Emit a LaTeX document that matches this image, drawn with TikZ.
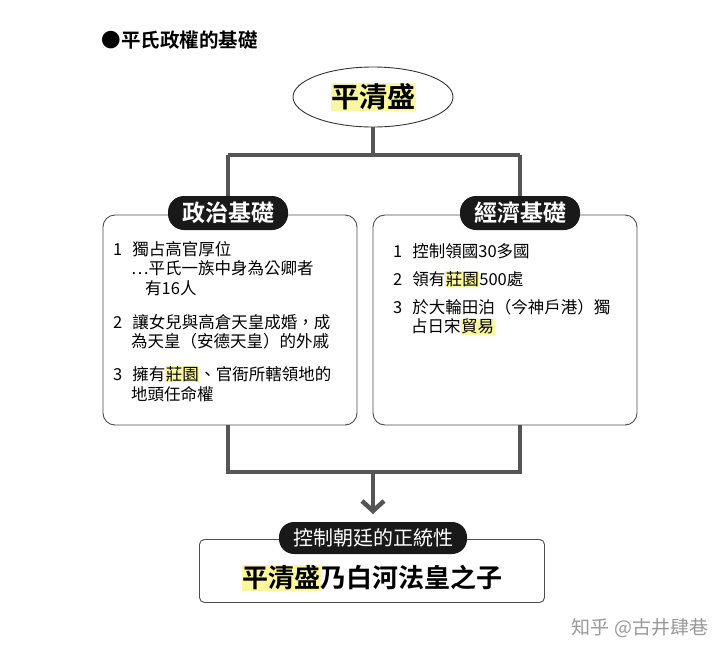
\documentclass[tikz,border=0pt]{standalone}
\usepackage{fontspec}
\setmainfont{Noto Sans CJK TC}
\newfontfamily\cjkbold{Noto Sans CJK TC Bold}
\usetikzlibrary{shapes.geometric, positioning, arrows.meta}
\definecolor{linegray}{HTML}{555555}
\definecolor{hlyellow}{HTML}{FAF7A0}
\newcommand{\hlt}[1]{{\setlength{\fboxsep}{0.5pt}\colorbox{hlyellow}{#1}}}

\begin{document}
\begin{tikzpicture}[x=1pt,y=-1pt,font=\fontsize{15}{20}\selectfont]
	\tikzset{conn/.style={draw=linegray, line width=4.5pt}}
	\tikzset{frame box/.style={draw=black!70, line width=0.9pt, rounded corners=12pt}}
	\tikzset{pill/.style={fill=black!90, text=white, rounded corners=16pt,
			minimum height=34pt, inner xsep=14pt, font=\cjkbold\fontsize{23}{24}\selectfont}}
	\tikzset{item/.style={anchor=north west, inner sep=0pt, align=left,
			font=\fontsize{16.5}{20.5}\selectfont}}

	\useasboundingbox (0,0) rectangle (720,659);

	\node[anchor=west, font=\cjkbold\fontsize{19.5}{20}\selectfont] (title) at (98,40) {●平氏政權的基礎};

	% top
	\node[ellipse, draw=black!80, line width=0.9pt, minimum width=160pt, minimum height=60pt,
		font=\cjkbold\fontsize{28}{30}\selectfont] (kiyo) at (373,97) {\hlt{平清盛}};
	\coordinate (split) at (373,155);
	\coordinate (splitL) at (228,155);
	\coordinate (splitR) at (520,155);

	% boxes
	\node[frame box, minimum width=254pt, minimum height=210pt] (polbox) at (230,320) {};
	\node[frame box, minimum width=264pt, minimum height=210pt] (ecobox) at (505,320) {};
	\draw[conn] (kiyo.south) -- (split) (splitL) -- (splitR)
		(splitL) -- (polbox.north -| splitL) (splitR) -- (ecobox.north -| splitR);
	\node[pill] (pol) at (228,213) {政治基礎};
	\node[pill] (eco) at (520,213) {經濟基礎};

	% political items
	\node[item] (p1) at (113,241) {1\hspace{10pt}獨占高官厚位\\[-1pt]\hspace{18pt}…平氏一族中身為公卿者\\[-1pt]\hspace{32pt}有16人};
	\node[item] (p2) at (113,314) {2\hspace{10pt}讓女兒與高倉天皇成婚，成\\[-1pt]\hspace{18pt}為天皇（安德天皇）的外戚};
	\node[item] (p3) at (113,366) {3\hspace{10pt}擁有\hlt{莊園}、官衙所轄領地的\\[-1pt]\hspace{18pt}地頭任命權};

	% economic items
	\node[item] (e1) at (393,243) {1\hspace{10pt}控制領國30多國};
	\node[item] (e2) at (393,271) {2\hspace{10pt}領有\hlt{莊園}500處};
	\node[item] (e3) at (393,299) {3\hspace{10pt}於大輪田泊（今神戶港）獨\\[-1pt]\hspace{18pt}占日宋\hlt{貿易}};

	% merge
	\coordinate (mergeL) at (228,472);
	\coordinate (mergeR) at (520,472);
	\coordinate (merge) at (373,472);
	\node[frame box, rounded corners=5pt, minimum width=345pt, minimum height=63pt] (resbox) at (372,571) {};
	\draw[conn] (polbox.south -| mergeL) -- (mergeL) -- (mergeR) -- (ecobox.south -| mergeR);
	\draw[conn, -{Straight Barb[length=10pt, width=22pt, line width=4.5pt]}] (merge) -- (373,514);
	\node[pill, rounded corners=15pt, minimum height=32pt, font=\fontsize{20}{22}\selectfont] (legit) at (373,538) {控制朝廷的正統性};
	\node[font=\cjkbold\fontsize{26}{28}\selectfont] (son) at (372,578) {\hlt{平清盛}乃白河法皇之子};

	\node[text=black!40, font=\fontsize{19}{20}\selectfont] (mark) at (640,628) {知乎 @古井肆巷};
\end{tikzpicture}
\end{document}
